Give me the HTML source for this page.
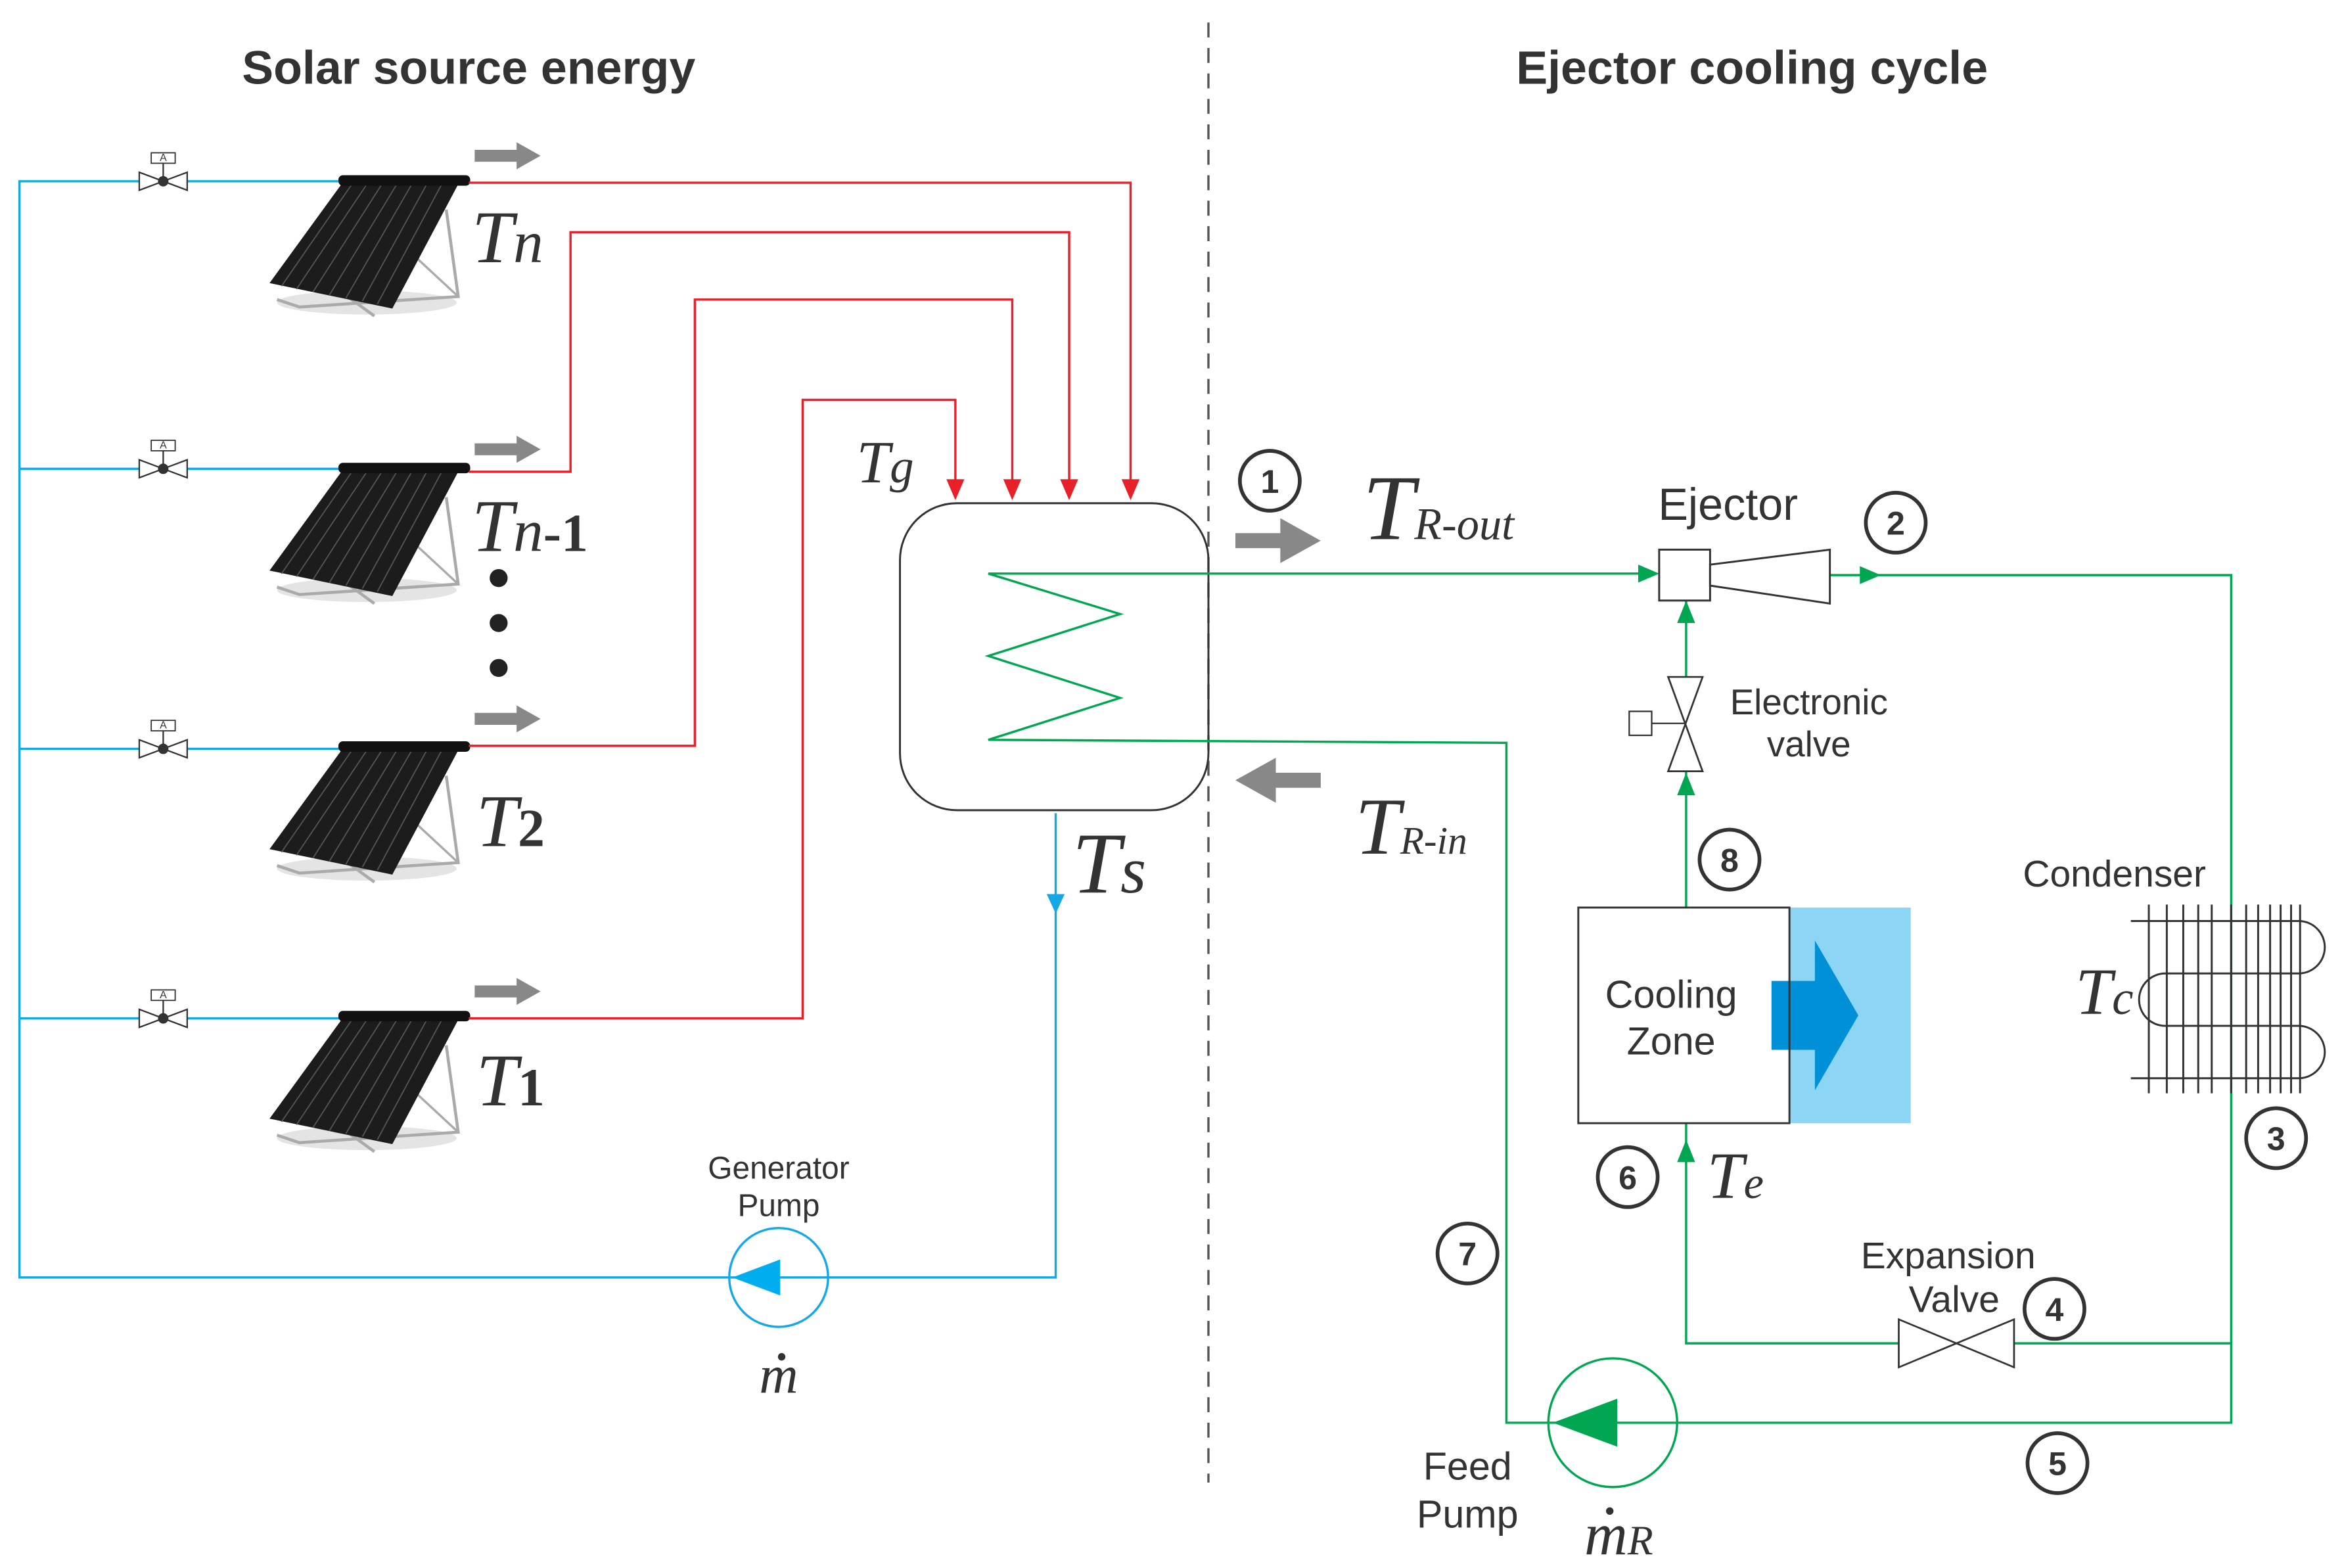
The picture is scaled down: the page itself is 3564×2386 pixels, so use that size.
<!DOCTYPE html>
<html><head><meta charset="utf-8"><style>
html,body{margin:0;padding:0;background:#fff}
svg{display:block}
.t{font-family:"Liberation Sans",sans-serif;fill:#333}
.m{font-family:"Liberation Serif",serif;font-style:italic;fill:#333}
</style></head><body>
<svg width="3564" height="2386" viewBox="0 0 1564 1047" xmlns="http://www.w3.org/2000/svg">
<defs>
<g id="col">
  <ellipse cx="245" cy="202" rx="60" ry="8" fill="#e4e4e4"/>
  <polyline points="298,140 306,198 200,205 185,200" fill="none" stroke="#aaa" stroke-width="2"/>
  <line x1="228" y1="195" x2="250" y2="211" stroke="#aaa" stroke-width="2"/>
  <line x1="265" y1="160" x2="306" y2="198" stroke="#aaa" stroke-width="1.5"/>
  <polygon points="228,123 306,123 262,206 180,189" fill="#1c1c1c"/>
  <g stroke="#555" stroke-width="0.8">
    <line x1="235" y1="123" x2="188" y2="191"/><line x1="245" y1="123" x2="198" y2="193"/>
    <line x1="255" y1="123" x2="209" y2="195"/><line x1="265" y1="123" x2="220" y2="197"/>
    <line x1="275" y1="123" x2="231" y2="199"/><line x1="285" y1="123" x2="242" y2="201"/>
    <line x1="295" y1="123" x2="252" y2="203"/>
  </g>
  <rect x="226" y="117" width="88" height="7" rx="3" fill="#111"/>
</g>
<g id="valve">
  <polygon points="93,-6 93,6 125,-6 125,6" fill="#fff" stroke="#333" stroke-width="1"/>
  <circle cx="109" cy="0" r="3.5" fill="#333"/>
  <line x1="109" y1="0" x2="109" y2="-13" stroke="#333"/>
  <rect x="101" y="-19" width="16" height="7" fill="#fff" stroke="#333" stroke-width="0.8"/>
  <text x="109" y="-13.5" font-size="7" text-anchor="middle" class="t">A</text>
</g>
<g id="garr"><polygon points="0,-4 28,-4 28,-9 44,0 28,9 28,4 0,4" fill="#888"/></g>
</defs>

<text x="313" y="56" class="t" font-size="31.5" font-weight="bold" text-anchor="middle">Solar source energy</text>
<text x="1170" y="56" class="t" font-size="31.5" font-weight="bold" text-anchor="middle">Ejector cooling cycle</text>
<line x1="807" y1="15" x2="807" y2="990" stroke="#555" stroke-width="1.5" stroke-dasharray="10,7"/>

<g stroke="#14a9e6" stroke-width="1.5" fill="none">
  <polyline points="228,121 13,121 13,853 705,853 705,543"/>
  <line x1="13" y1="313" x2="228" y2="313"/>
  <line x1="13" y1="500" x2="228" y2="500"/>
  <line x1="13" y1="680" x2="228" y2="680"/>
  <circle cx="520" cy="853" r="33"/>
</g>
<polygon points="489,853 521,841 521,865" fill="#00aeef"/>
<polygon points="699,597 711,597 705,610" fill="#14a9e6"/>

<use href="#valve" transform="translate(0,121)"/>
<use href="#valve" transform="translate(0,313)"/>
<use href="#valve" transform="translate(0,500)"/>
<use href="#valve" transform="translate(0,680)"/>

<use href="#col"/>
<use href="#col" transform="translate(0,192)"/>
<use href="#col" transform="translate(0,378)"/>
<use href="#col" transform="translate(0,558)"/>

<use href="#garr" transform="translate(317,104)"/>
<use href="#garr" transform="translate(317,300)"/>
<use href="#garr" transform="translate(317,480)"/>
<use href="#garr" transform="translate(317,662)"/>

<g stroke="#e8202a" stroke-width="1.5" fill="none">
  <polyline points="313,122 755,122 755,322"/>
  <polyline points="313,315 381,315 381,155 714,155 714,322"/>
  <polyline points="313,498 464,498 464,200 676,200 676,322"/>
  <polyline points="313,680 536,680 536,267 638,267 638,322"/>
</g>
<g fill="#e8202a">
  <polygon points="749,320 761,320 755,334"/>
  <polygon points="708,320 720,320 714,334"/>
  <polygon points="670,320 682,320 676,334"/>
  <polygon points="632,320 644,320 638,334"/>
</g>

<text x="315" y="175" class="m" font-size="50">T<tspan font-size="40">n</tspan></text>
<text x="315" y="368" class="m" font-size="50">T<tspan font-size="40">n</tspan><tspan font-style="normal" font-weight="bold" font-size="36">-1</tspan></text>
<circle cx="333" cy="386" r="6" fill="#222"/><circle cx="333" cy="416" r="6" fill="#222"/><circle cx="333" cy="446" r="6" fill="#222"/>
<text x="318" y="565" class="m" font-size="50">T<tspan font-style="normal" font-weight="bold" font-size="36">2</tspan></text>
<text x="318" y="738" class="m" font-size="50">T<tspan font-style="normal" font-weight="bold" font-size="36">1</tspan></text>
<text x="572" y="322" class="m" font-size="40">T<tspan font-size="32">g</tspan></text>
<text x="716" y="596" class="m" font-size="58">T<tspan font-size="44">s</tspan></text>

<text x="520" y="787" class="t" font-size="21" text-anchor="middle">Generator</text>
<text x="520" y="812" class="t" font-size="21" text-anchor="middle">Pump</text>
<text x="520" y="930" class="m" font-size="36" text-anchor="middle">m</text>
<circle cx="522" cy="906" r="2.5" fill="#333"/>

<rect x="601" y="336" width="206" height="205" rx="38" fill="none" stroke="#333" stroke-width="1.3"/>

<g stroke="#00a651" stroke-width="1.5" fill="none">
  <polyline points="1106,383 660,383 748,410 660,438 748,466 660,494 1006,496 1006,950 1490,950 1490,384 1222,384"/>
  <polyline points="1490,897 1345,897"/>
  <polyline points="1268,897 1126,897 1126,750"/>
  <line x1="1126" y1="606" x2="1126" y2="515"/>
  <line x1="1126" y1="452" x2="1126" y2="401"/>
  <circle cx="1077" cy="950" r="43"/>
</g>
<g fill="#00a651">
  <polygon points="1108,383 1094,377 1094,389"/>
  <polygon points="1256,384 1242,378 1242,390"/>
  <polygon points="1126,401 1120,416 1132,416"/>
  <polygon points="1126,516 1120,531 1132,531"/>
  <polygon points="1126,761 1120,776 1132,776"/>
  <polygon points="1037,950 1080,934 1080,966"/>
</g>

<rect x="1108" y="367" width="34" height="34" fill="#fff" stroke="#333" stroke-width="1.3"/>
<polygon points="1142,377 1222,367 1222,403 1142,391" fill="#fff" stroke="#333" stroke-width="1.3"/>
<text x="1154" y="347" class="t" font-size="30" text-anchor="middle">Ejector</text>

<polygon points="1114,452 1137,452 1114,515 1137,515" fill="#fff" stroke="#333" stroke-width="1.2"/>
<line x1="1103" y1="483" x2="1126" y2="483" stroke="#333"/>
<rect x="1088" y="475" width="15" height="16" fill="#fff" stroke="#333"/>
<text x="1208" y="477" class="t" font-size="24" text-anchor="middle">Electronic</text>
<text x="1208" y="505" class="t" font-size="24" text-anchor="middle">valve</text>

<rect x="1195" y="606" width="81" height="144" fill="#8dd5f5"/>
<polygon points="1183,655 1212,655 1212,628 1241,678 1212,728 1212,701 1183,701" fill="#0090d8"/>
<rect x="1054" y="606" width="141" height="144" fill="none" stroke="#333" stroke-width="1.3"/>
<text x="1116" y="673" class="t" font-size="26" text-anchor="middle">Cooling</text>
<text x="1116" y="704" class="t" font-size="26" text-anchor="middle">Zone</text>

<polygon points="1268,881 1268,913 1345,881 1345,913" fill="#fff" stroke="#333" stroke-width="1.2"/>
<text x="1301" y="847" class="t" font-size="25" text-anchor="middle">Expansion</text>
<text x="1305" y="876" class="t" font-size="25" text-anchor="middle">Valve</text>

<text x="1412" y="592" class="t" font-size="25" text-anchor="middle">Condenser</text>
<g stroke="#333" stroke-width="1.3" fill="none">
  <path d="M1423,615 H1535 A17.5,17.5 0 0 1 1535,650 H1446 A17.5,17.5 0 0 0 1446,685 H1535 A17.5,17.5 0 0 1 1535,720 H1423"/>
  <line x1="1435" y1="604" x2="1435" y2="730"/><line x1="1447" y1="604" x2="1447" y2="730"/>
  <line x1="1458" y1="604" x2="1458" y2="730"/><line x1="1468" y1="604" x2="1468" y2="730"/>
  <line x1="1477" y1="604" x2="1477" y2="730"/><line x1="1500" y1="604" x2="1500" y2="730"/>
  <line x1="1508" y1="604" x2="1508" y2="730"/><line x1="1516" y1="604" x2="1516" y2="730"/>
  <line x1="1523" y1="604" x2="1523" y2="730"/><line x1="1530" y1="604" x2="1530" y2="730"/>
  <line x1="1536" y1="604" x2="1536" y2="730"/>
</g>
<line x1="1490" y1="604" x2="1490" y2="730" stroke="#333" stroke-width="1.3"/>
<text x="1386" y="677" class="m" font-size="44">T<tspan font-size="32">c</tspan></text>

<polygon points="825,356 855,356 855,346 882,361 855,376 855,366 825,366" fill="#888"/>
<polygon points="882,516 852,516 852,506 825,521 852,536 852,526 882,526" fill="#888"/>

<text x="910" y="360" class="m" font-size="62">T<tspan font-size="30">R-out</tspan></text>
<text x="905" y="570" class="m" font-size="54">T<tspan font-size="26">R-in</tspan></text>
<text x="1140" y="800" class="m" font-size="44">T<tspan font-size="30">e</tspan></text>

<text x="980" y="988" class="t" font-size="26" text-anchor="middle">Feed</text>
<text x="980" y="1020" class="t" font-size="26" text-anchor="middle">Pump</text>
<text x="1058" y="1038" class="m" font-size="40">m<tspan font-size="28">R</tspan></text>
<circle cx="1075" cy="1009" r="2.5" fill="#333"/>

<g fill="none" stroke="#333" stroke-width="2.5">
  <circle cx="848" cy="321" r="20"/><circle cx="1266" cy="349" r="20"/>
  <circle cx="1155" cy="574" r="20"/><circle cx="1087" cy="786" r="20"/>
  <circle cx="980" cy="837" r="20"/><circle cx="1520" cy="760" r="20"/>
  <circle cx="1372" cy="874" r="20"/><circle cx="1374" cy="977" r="20"/>
</g>
<g class="t" font-size="22" font-weight="bold" text-anchor="middle">
  <text x="848" y="329">1</text><text x="1266" y="357">2</text>
  <text x="1155" y="582">8</text><text x="1087" y="794">6</text>
  <text x="980" y="845">7</text><text x="1520" y="768">3</text>
  <text x="1372" y="882">4</text><text x="1374" y="985">5</text>
</g>
</svg>
</body></html>
